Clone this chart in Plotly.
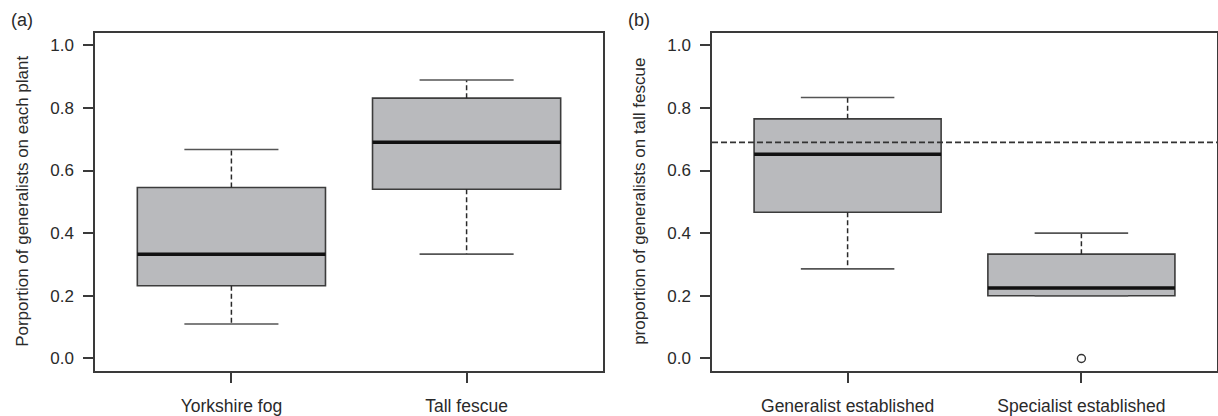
import plotly.graph_objects as go

# ---------------- data ----------------
cats_a = ["Yorkshire fog", "Tall fescue"]
lower_a = [0.110, 0.333]
q1_a = [0.232, 0.540]
median_a = [0.333, 0.690]
q3_a = [0.546, 0.831]
upper_a = [0.667, 0.889]

cats_b = ["Generalist established", "Specialist established"]
lower_b = [0.286, 0.200]
q1_b = [0.467, 0.200]
median_b = [0.652, 0.225]
q3_b = [0.765, 0.333]
upper_b = [0.833, 0.400]
outliers_b_x = [2]
outliers_b_y = [0.0]
ref_line_b = 0.69

y_ticks = [0.0, 0.2, 0.4, 0.6, 0.8, 1.0]
ytitle_a = "Porportion of generalists on each plant"
ytitle_b = "proportion of generalists on tall fescue"

# ---------------- style ----------------
FONT = "Liberation Sans, Arial, Helvetica, sans-serif"
TXT = "#2a2a2a"
BOX_FILL = "#b9babd"
BOX_EDGE = "#3c3c3c"
AXIS = "#3a3a3a"
BOXW = 0.8
CAPW = 0.4

W, H = 1218, 416
dom_a = [95 / W, 603 / W]
dom_b = [712 / W, 1217 / W]
dom_y = [1 - 371 / H, 1 - 32.7 / H]

fig = go.Figure()


def add_panel(xa, ya, q1, med, q3, lo, hi):
    n = len(q1)
    xs = list(range(1, n + 1))
    # boxes
    fig.add_trace(go.Bar(
        x=xs, y=[q3[i] - q1[i] for i in range(n)], base=q1, width=BOXW,
        marker=dict(color=BOX_FILL, line=dict(color=BOX_EDGE, width=1.6)),
        xaxis=xa, yaxis=ya, showlegend=False, hoverinfo="skip"))
    # dashed whiskers
    wx, wy = [], []
    for i, x in enumerate(xs):
        wx += [x, x, None, x, x, None]
        wy += [q3[i], hi[i], None, q1[i], lo[i], None]
    fig.add_trace(go.Scatter(x=wx, y=wy, mode="lines",
                             line=dict(color="#2a2a2a", width=1.5, dash="5px,3px"),
                             xaxis=xa, yaxis=ya, showlegend=False, hoverinfo="skip"))
    # caps
    cx, cy = [], []
    for i, x in enumerate(xs):
        cx += [x - CAPW / 2, x + CAPW / 2, None, x - CAPW / 2, x + CAPW / 2, None]
        cy += [hi[i], hi[i], None, lo[i], lo[i], None]
    fig.add_trace(go.Scatter(x=cx, y=cy, mode="lines",
                             line=dict(color="#555555", width=1.6),
                             xaxis=xa, yaxis=ya, showlegend=False, hoverinfo="skip"))
    # medians
    mx, my = [], []
    for i, x in enumerate(xs):
        mx += [x - BOXW / 2, x + BOXW / 2, None]
        my += [med[i], med[i], None]
    fig.add_trace(go.Scatter(x=mx, y=my, mode="lines",
                             line=dict(color="#111111", width=3.5),
                             xaxis=xa, yaxis=ya, showlegend=False, hoverinfo="skip"))


add_panel("x", "y", q1_a, median_a, q3_a, lower_a, upper_a)
add_panel("x2", "y2", q1_b, median_b, q3_b, lower_b, upper_b)

fig.add_trace(go.Scatter(x=outliers_b_x, y=outliers_b_y, mode="markers",
                         marker=dict(symbol="circle-open", size=8, color="#333333",
                                     line=dict(width=1.4)),
                         xaxis="x2", yaxis="y2", showlegend=False, hoverinfo="skip"))

fig.add_shape(type="line", xref="x2 domain", yref="y2", x0=0, x1=1,
              y0=ref_line_b, y1=ref_line_b,
              line=dict(color="#333333", width=1.6, dash="6px,3px"))

xcommon = dict(range=[0.42, 2.58], tickvals=[1, 2], showline=True, mirror=True,
               linecolor=AXIS, linewidth=1.5, ticks="outside", ticklen=10,
               tickcolor=AXIS, tickwidth=1.5, showgrid=False, zeroline=False,
               tickfont=dict(family=FONT, size=17.5, color=TXT), ticklabelstandoff=8)
ycommon = dict(range=[-0.04, 1.04], tickvals=y_ticks, tickformat=".1f",
               showline=True, mirror=True, linecolor=AXIS, linewidth=1.5,
               ticks="outside", ticklen=10, tickcolor=AXIS, tickwidth=1.5,
               showgrid=False, zeroline=False, domain=dom_y,
               tickfont=dict(family=FONT, size=17, color=TXT), ticklabelstandoff=6)

fig.update_layout(
    width=W, height=H,
    margin=dict(l=0, r=0, t=0, b=0),
    paper_bgcolor="white", plot_bgcolor="white",
    barmode="overlay",
    xaxis=dict(domain=dom_a, ticktext=cats_a, anchor="y", **xcommon),
    yaxis=dict(anchor="x", **ycommon),
    xaxis2=dict(domain=dom_b, ticktext=cats_b, anchor="y2", **xcommon),
    yaxis2=dict(anchor="x2", **ycommon),
    annotations=[
        dict(text=ytitle_a, textangle=-90, xref="paper", yref="paper",
             x=23 / W, y=(dom_y[0] + dom_y[1]) / 2, xanchor="center", yanchor="middle",
             showarrow=False, font=dict(family=FONT, size=17, color=TXT)),
        dict(text=ytitle_b, textangle=-90, xref="paper", yref="paper",
             x=640 / W, y=(dom_y[0] + dom_y[1]) / 2, xanchor="center", yanchor="middle",
             showarrow=False, font=dict(family=FONT, size=17, color=TXT)),
        dict(text="(a)", xref="paper", yref="paper", x=22 / W, y=1 - 20 / H,
             xanchor="center", yanchor="middle", showarrow=False,
             font=dict(family=FONT, size=18, color=TXT)),
        dict(text="(b)", xref="paper", yref="paper", x=639 / W, y=1 - 20 / H,
             xanchor="center", yanchor="middle", showarrow=False,
             font=dict(family=FONT, size=18, color=TXT)),
    ],
)

fig.write_html("out.html",
               config={"displayModeBar": False},
               post_script="document.body.style.margin='0';"
                           "document.body.style.overflow='hidden';")
